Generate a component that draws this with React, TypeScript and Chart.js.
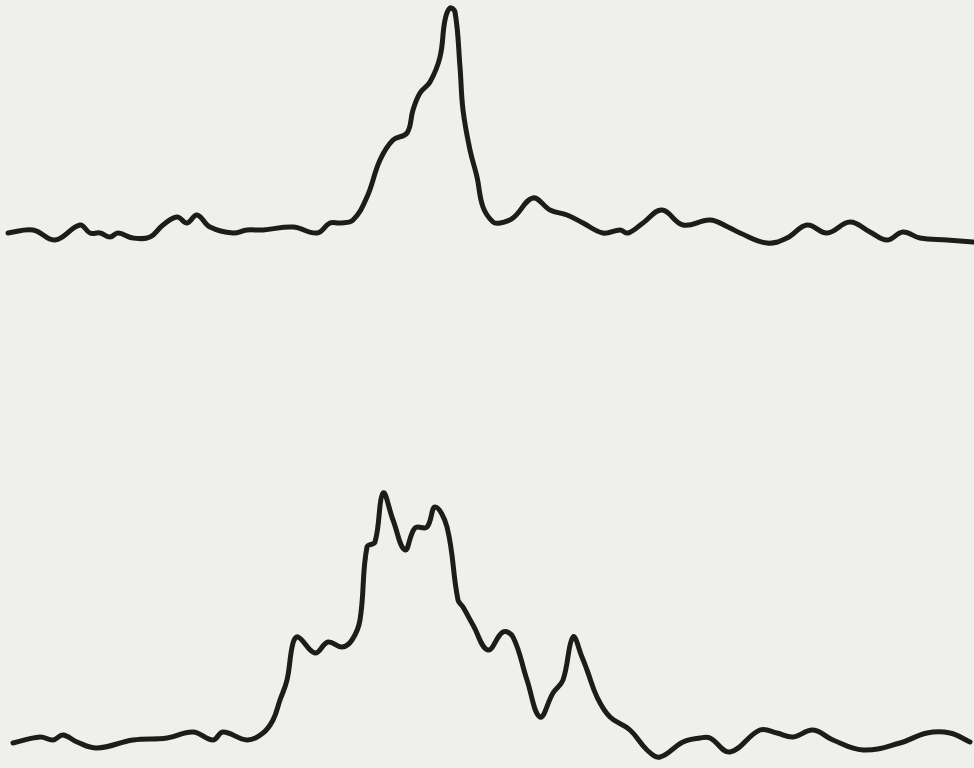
import React, { useEffect, useRef } from "react";
import { Chart, registerables } from "chart.js";

Chart.register(...registerables);

// Upper trace: horizontal position and signal height
const upperX = [8,33,55,80,90,100,110,118,133,150,163,177,187,197,210,233,247,263,293,317,330,340,353,367,380,393,407,413,420,430,440,445,450,455,460,463,470,477,483,493,500,513,533,550,567,583,603,620,628,643,662,683,710,728,740,767,787,807,827,850,870,887,903,920,947,973];
const upperY = [535,538,528,543,535,535,531,535,530,531,543,551,545,553,541,535,538,538,541,535,545,545,548,571,608,628,635,658,675,686,711,748,760,756,701,658,618,591,561,546,545,550,570,558,553,545,535,538,535,545,558,543,548,541,535,525,530,543,535,546,536,528,536,530,528,526];

// Lower trace
const lowerX = [13,40,53,63,77,97,133,167,193,213,223,247,263,273,280,287,293,298,315,328,342,352,360,367,375,383,393,405,415,427,435,447,458,463,473,488,503,513,527,540,553,563,573,582,587,597,610,630,647,660,683,700,710,730,760,777,793,813,833,863,900,927,950,970];
const lowerY = [25,31,28,33,26,20,28,30,36,28,36,28,35,48,68,88,125,131,115,126,121,128,148,221,226,275,248,218,240,241,261,241,168,161,143,118,136,131,88,51,75,88,131,111,98,71,51,38,18,11,26,30,30,16,38,35,31,38,28,18,25,35,35,26];

const X_MIN = 0;
const X_MAX = 974;
const Y_MIN = 0;
const Y_MAX = 768;

export default function App() {
  const ref = useRef<HTMLCanvasElement | null>(null);

  useEffect(() => {
    document.body.style.margin = "0";
    document.body.style.background = "#efefec";
    const canvas = ref.current;
    if (!canvas) return;
    const bg = {
      id: "bg",
      beforeDraw(chart: any) {
        const { ctx, width, height } = chart;
        ctx.save();
        ctx.fillStyle = "#efefec";
        ctx.fillRect(0, 0, width, height);
        ctx.restore();
      },
    };
    const toPts = (xs: number[], ys: number[]) => xs.map((x, i) => ({ x, y: ys[i] }));
    const chart = new Chart(canvas, {
      type: "line",
      data: {
        datasets: [
          {
            data: toPts(upperX, upperY),
            borderColor: "#1c1c1c",
            borderWidth: 5,
            pointRadius: 0,
            tension: 0.4,
            fill: false,
            borderCapStyle: "round",
            borderJoinStyle: "round",
          },
          {
            data: toPts(lowerX, lowerY),
            borderColor: "#1c1c1c",
            borderWidth: 5,
            pointRadius: 0,
            tension: 0.4,
            fill: false,
            borderCapStyle: "round",
            borderJoinStyle: "round",
          },
        ],
      },
      options: {
        animation: false,
        responsive: false,
        layout: { padding: 0 },
        plugins: { legend: { display: false }, tooltip: { enabled: false } },
        scales: {
          x: { type: "linear", min: X_MIN, max: X_MAX, display: false },
          y: { type: "linear", min: Y_MIN, max: Y_MAX, display: false },
        },
      },
      plugins: [bg],
    });
    return () => chart.destroy();
  }, []);

  return (
    <div style={{ width: 974, height: 768, background: "#efefec" }}>
      <canvas ref={ref} width={974} height={768} style={{ display: "block" }} />
    </div>
  );
}
